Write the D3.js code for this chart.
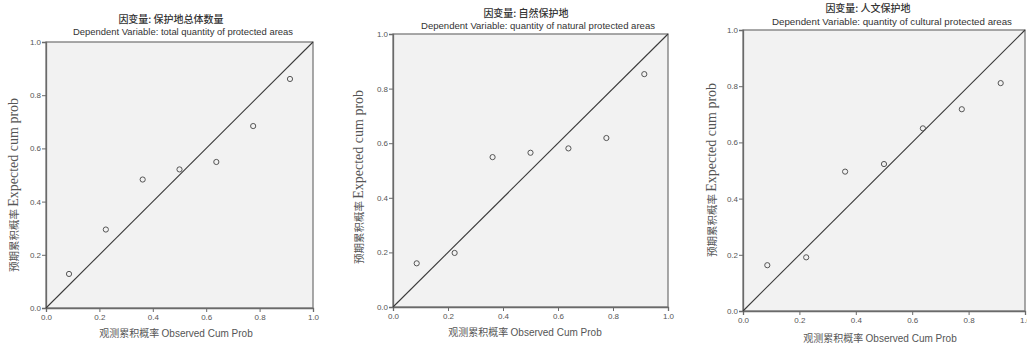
<!DOCTYPE html>
<html><head><meta charset="utf-8">
<script src="https://cdn.jsdelivr.net/npm/d3@7"></script>
<style>
html,body{margin:0;padding:0;background:#fff;}
svg{display:block;}
</style></head>
<body>
<svg id="chart" width="1027" height="349"></svg>
<script>
// ---- data ----
const observedCumProb = [0.0862, 0.2241, 0.3621, 0.5, 0.6379, 0.7759, 0.9138];
const expectedTotal    = [0.128, 0.295, 0.483, 0.521, 0.549, 0.684, 0.861];
const expectedNatural  = [0.160, 0.198, 0.549, 0.565, 0.581, 0.619, 0.853];
const expectedCultural = [0.163, 0.191, 0.496, 0.523, 0.650, 0.718, 0.811];
const titlesCN = ["因变量: 保护地总体数量", "因变量: 自然保护地", "因变量: 人文保护地"];
const titlesEN = ["Dependent Variable: total quantity of protected areas",
                  "Dependent Variable: quantity of natural protected areas",
                  "Dependent Variable: quantity of cultural protected areas"];
const tickValues = [0, 0.2, 0.4, 0.6, 0.8, 1.0];
const xLabelCN = "观测累积概率", xLabelEN = "Observed Cum Prob";
const yLabelCN = "预期累积概率", yLabelEN = "Expected cum prob";

// ---- layout ----
const panels = [
  {exp: expectedTotal, x0: 46, x1: 313, y0: 42, y1: 308, tX: 171, tY: 23, sX: 183, sY: 35, sW: 220, yl: {x: 18, c: 185}, xl: {c: 176, y: 337}},
  {exp: expectedNatural, x0: 393, x1: 668, y0: 34, y1: 307, tX: 526, tY: 17, sX: 538, sY: 29, sW: 234, yl: {x: 363, c: 177}, xl: {c: 525, y: 336}},
  {exp: expectedCultural, x0: 743, x1: 1025, y0: 30, y1: 311, tX: 868, tY: 12, sX: 892, sY: 25, sW: 240, yl: {x: 716, c: 170}, xl: {c: 880, y: 342}}
];

const svg = d3.select("#chart");
const fmt = d3.format(".1f");

panels.forEach((p, i) => {
  const x = d3.scaleLinear().domain([0, 1]).range([p.x0, p.x1]);
  const y = d3.scaleLinear().domain([0, 1]).range([p.y1, p.y0]);
  const g = svg.append("g");

  g.append("rect").attr("x", p.x0).attr("y", p.y0)
    .attr("width", p.x1 - p.x0).attr("height", p.y1 - p.y0)
    .attr("fill", "#f2f2f2").attr("stroke", "#7a7a7a").attr("stroke-width", 1.3);

  const xa = g.append("g").attr("transform", `translate(0,${p.y1})`)
    .call(d3.axisBottom(x).tickValues(tickValues).tickFormat(fmt).tickSize(4).tickPadding(2));
  const ya = g.append("g").attr("transform", `translate(${p.x0},0)`)
    .call(d3.axisLeft(y).tickValues(tickValues).tickFormat(fmt).tickSize(4).tickPadding(1));
  [xa, ya].forEach(a => {
    a.select(".domain").attr("stroke", "#6a6a6a").attr("stroke-width", 1.3);
    a.selectAll(".tick line").attr("stroke", "#6a6a6a");
    a.selectAll("text").attr("fill", "#555").style("font-family", "Liberation Sans, Arial, sans-serif").style("font-size", "8px");
  });

  // diagonal reference line
  g.append("line").attr("x1", x(0)).attr("y1", y(0)).attr("x2", x(1)).attr("y2", y(1))
    .attr("stroke", "#3a3a3a").attr("stroke-width", 1.1);

  // points
  g.selectAll("circle.pt").data(observedCumProb.map((o, k) => [o, p.exp[k]])).enter()
    .append("circle").attr("class", "pt")
    .attr("cx", d => x(d[0])).attr("cy", d => y(d[1])).attr("r", 2.6)
    .attr("fill", "none").attr("stroke", "#555").attr("stroke-width", 1);

  // titles
  g.append("text").attr("x", p.tX).attr("y", p.tY).attr("text-anchor", "middle")
    .style("font-family", "Noto Sans CJK SC, sans-serif").style("font-size", "10px").style("font-weight", "500")
    .attr("fill", "#333").text(titlesCN[i]);
  g.append("text").attr("x", p.sX).attr("y", p.sY).attr("text-anchor", "middle")
    .attr("textLength", p.sW).attr("lengthAdjust", "spacingAndGlyphs")
    .style("font-family", "Liberation Sans Narrow, Liberation Sans, Arial, sans-serif").style("font-size", "9px")
    .attr("fill", "#333").text(titlesEN[i]);

  // y label
  const yl = g.append("text").attr("transform", `translate(${p.yl.x},${p.yl.c}) rotate(-90)`)
    .attr("text-anchor", "middle").attr("fill", "#555");
  yl.append("tspan").style("font-family", "Noto Sans CJK SC, sans-serif").style("font-size", "10.5px").text(yLabelCN + " ");
  yl.append("tspan").style("font-family", "Liberation Serif, Times New Roman, serif").style("font-size", "14px").text(yLabelEN);

  // x label
  const xl = g.append("text").attr("x", p.xl.c).attr("y", p.xl.y).attr("text-anchor", "middle").attr("fill", "#555");
  xl.append("tspan").style("font-family", "Noto Sans CJK SC, sans-serif").style("font-size", "10px").text(xLabelCN + "  ");
  xl.append("tspan").style("font-family", "Liberation Sans Narrow, Liberation Sans, Arial, sans-serif").style("font-size", "10px").text(xLabelEN);
});
</script>
</body></html>
